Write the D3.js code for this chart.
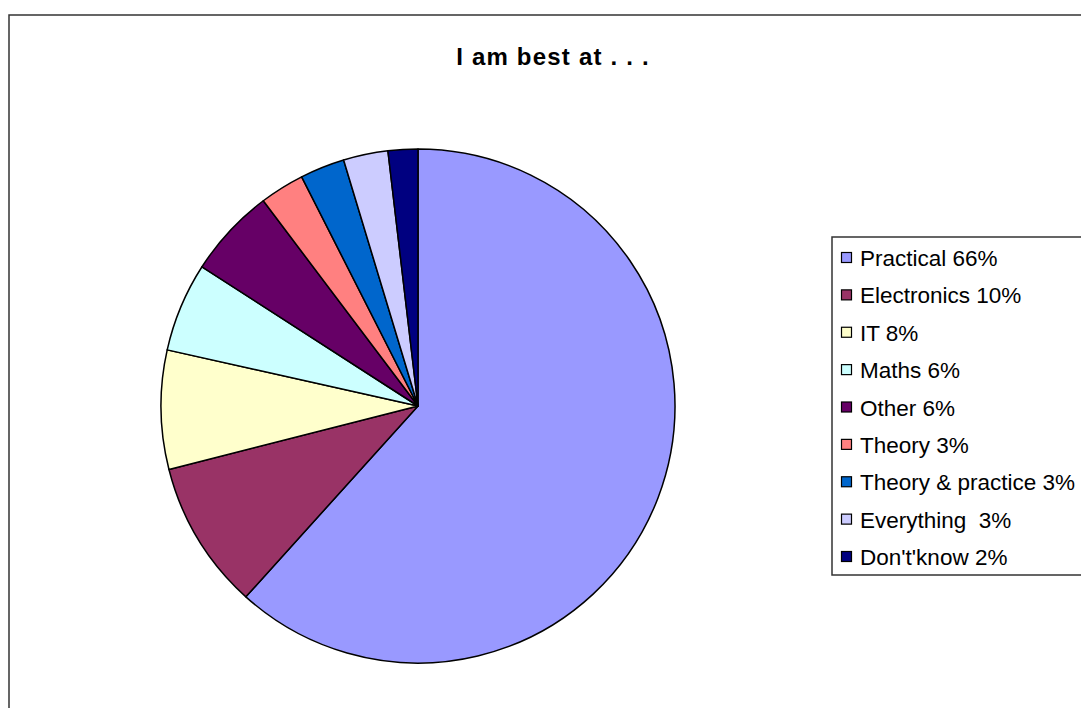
<!DOCTYPE html>
<html>
<head>
<meta charset="utf-8">
<script src="https://cdn.jsdelivr.net/npm/d3@7"></script>
<style>
  html, body { margin: 0; padding: 0; background: #fff; }
  svg { display: block; font-family: Arial, "Liberation Sans", sans-serif; }
  text { white-space: pre; }
</style>
</head>
<body>
<svg id="chart" width="1081" height="708"></svg>
<script>
// Survey answers: "I am best at ..."
const categories = ["Practical", "Electronics", "IT", "Maths", "Other", "Theory",
                    "Theory & practice", "Everything", "Don't'know"];
const values = [66, 10, 8, 6, 6, 3, 3, 3, 2];
const legendLabels = ["Practical 66%", "Electronics 10%", "IT 8%", "Maths 6%", "Other 6%",
                      "Theory 3%", "Theory & practice 3%", "Everything  3%", "Don't'know 2%"];
const colors = ["#9999FF", "#993366", "#FFFFCC", "#CCFFFF", "#660066",
                "#FF8080", "#0066CC", "#CCCCFF", "#000080"];

const svg = d3.select("#chart");

// Chart frame (open on the right and bottom)
svg.append("rect")
  .attr("x", 9).attr("y", 15)
  .attr("width", 1100).attr("height", 720)
  .attr("fill", "#fff").attr("stroke", "#333").attr("stroke-width", 1.5);

// Title
svg.append("text")
  .attr("x", 553).attr("y", 65)
  .attr("text-anchor", "middle")
  .attr("font-size", 24).attr("font-weight", "bold")
  .attr("letter-spacing", 1.2)
  .attr("fill", "#000")
  .text("I am best at . . .");

// Pie
const cx = 418, cy = 406, radius = 257;
const data = categories.map((c, i) => ({ name: c, value: values[i], color: colors[i] }));
const pie = d3.pie().value(d => d.value).sort(null);
const arc = d3.arc().innerRadius(0).outerRadius(radius);

svg.append("g")
  .attr("transform", `translate(${cx},${cy})`)
  .selectAll("path")
  .data(pie(data))
  .join("path")
  .attr("d", arc)
  .attr("fill", d => d.data.color)
  .attr("stroke", "#000")
  .attr("stroke-width", 1.5)
  .attr("stroke-linejoin", "round");

// Legend
const lg = svg.append("g").attr("transform", "translate(832,237)");
lg.append("rect")
  .attr("x", 0).attr("y", 0).attr("width", 300).attr("height", 338)
  .attr("fill", "#fff").attr("stroke", "#333").attr("stroke-width", 1.5);

const rowY = d3.scalePoint().domain(d3.range(categories.length)).range([21, 320]);
const rows = lg.selectAll("g.row")
  .data(data)
  .join("g")
  .attr("class", "row")
  .attr("transform", (d, i) => `translate(0,${rowY(i)})`);

rows.append("rect")
  .attr("x", 9.5).attr("y", -5.5).attr("width", 10).attr("height", 10)
  .attr("fill", d => d.color).attr("stroke", "#000").attr("stroke-width", 1.2);

rows.append("text")
  .attr("x", 28).attr("y", 8)
  .attr("font-size", 22.5).attr("fill", "#000")
  .text((d, i) => legendLabels[i]);
</script>
</body>
</html>
